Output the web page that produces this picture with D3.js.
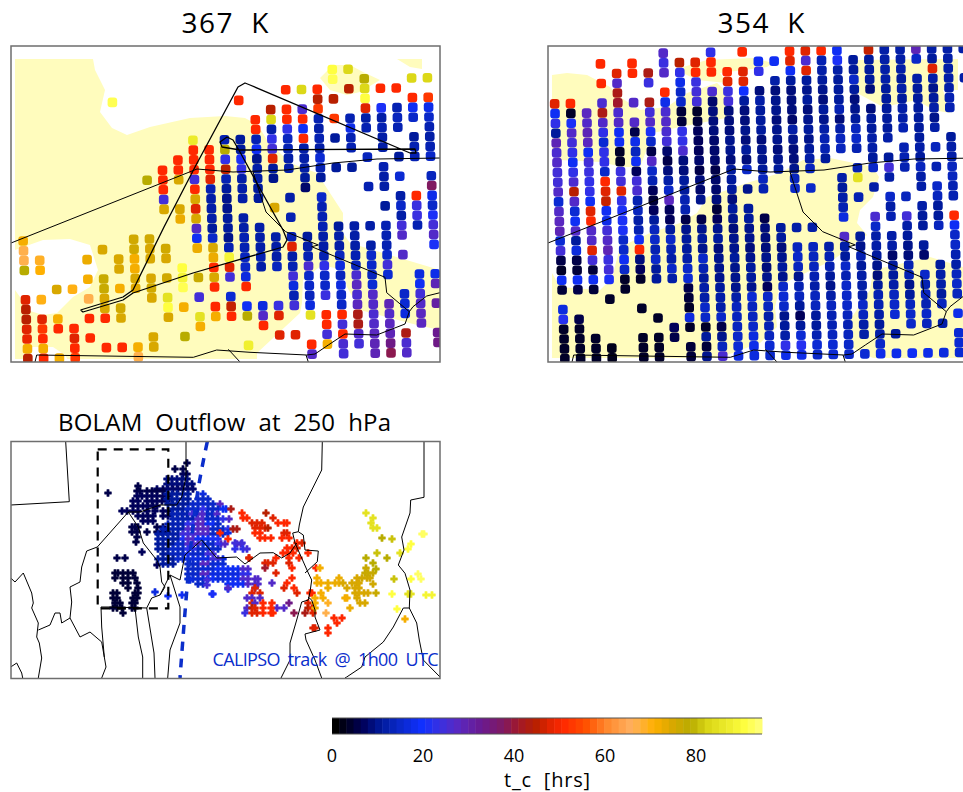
<!DOCTYPE html>
<html>
<head>
<meta charset="utf-8">
<script src="https://d3js.org/d3.v7.min.js"></script>
<style>
body { margin: 0; background: #fff; }
text { font-family: "Open Sans", sans-serif; font-weight: 400; fill: #000; }
</style>
</head>
<body>
<script>
// colour bar of t_c [hrs]
var colorStopT = [0, 3, 6, 10, 14, 19, 23, 27, 32, 37, 40, 44, 47, 50, 55, 60, 65, 70, 74, 78, 82, 87, 90, 94.5];
var colorStopC = ['#000000', '#000028', '#00005a', '#001a9c', '#0a28c8', '#1030ff', '#3a30e0', '#5a28c0', '#6a1a90', '#801a60',
	'#a0182c', '#b82000', '#e02400', '#ff2800', '#ff5000', '#ff8c30', '#ffb060', '#ffb000', '#d8a800', '#b8ac00',
	'#dcd818', '#f0f030', '#ffff40', '#ffff90'];
var barTicks = [0, 20, 40, 60, 80];

// 367 K, one object per trajectory row: {column: t_c}
var rows367 = [
	{20:90,21:82},
	{20:91,22:78,25:82,26:82},
	{17:50,18:82,19:50,21:44,22:82,23:50,24:50},
	{6:91,14:50,19:44,20:44,22:90,25:50,26:52},
	{16:44,17:50,18:25,19:52,22:47,23:20,24:12,25:18,26:17},
	{15:50,16:82,17:50,18:50,19:12,20:52,21:12,22:11,23:11,24:13,25:14,26:14},
	{15:50,16:11,17:22,18:18,19:11,21:17,22:12,23:12,24:12,26:12},
	{11:86,13:12,14:10,15:12,16:22,17:13,18:50,19:12,20:10,21:12,23:11,25:10,26:11},
	{11:50,12:50,13:78,14:10,15:18,16:24,17:12,18:11,19:11,21:12,23:11,25:12,26:12},
	{10:50,11:50,12:50,13:22,14:20,15:9,16:47,17:11,18:11,19:15,22:13,24:10,25:12,26:14},
	{9:50,10:50,11:50,12:50,13:44,14:22,15:11,16:10,17:11,18:11,19:12,20:10,21:10,23:12},
	{8:78,9:50,10:74,11:24,12:47,13:12,14:11,15:11,16:9,18:10,19:10,23:11,24:15,26:13},
	{9:50,11:50,12:12,13:10,14:11,15:10,18:7,22:12,23:11,26:37},
	{9:24,11:74,12:11,13:9,14:11,15:10,17:11,19:14,24:11,25:50,26:17},
	{9:74,10:74,11:47,12:11,13:9,16:74,19:12,23:10,24:14,25:23,26:14},
	{10:72,11:74,12:11,13:10,14:11,17:12,19:12,24:11,25:23,26:20},
	{11:26,12:10,13:10,14:11,15:11,19:12,20:10,21:11,22:11,23:12,24:24,25:12,26:24},
	{0:71,7:75,8:75,11:18,12:14,13:9,14:12,15:11,16:11,17:12,18:10,19:11,20:11,21:11,23:12,24:26,26:26},
	{0:66,5:74,7:75,8:74,9:75,11:72,12:74,13:12,14:12,15:11,16:11,17:47,18:11,19:11,20:11,21:11,22:11,23:12,26:20},
	{0:66,1:68,4:72,6:74,7:71,8:74,9:74,12:72,13:88,14:13,15:12,16:11,17:11,18:12,19:12,20:13,21:12,22:14,23:14,24:26},
	{0:78,1:70,6:74,7:71,10:90,12:50,13:47,14:14,15:11,16:13,17:12,18:25,19:22,20:16,21:13,22:14,23:24},
	{4:71,5:76,7:74,8:74,9:75,10:88,11:76,12:74,13:24,14:16,17:24,18:14,19:14,20:13,21:25,22:13,23:15,25:16,26:17},
	{2:74,3:69,5:76,6:71,7:73,8:75,10:91,12:50,14:50,17:16,18:14,19:14,20:16,21:27,22:15,25:18,26:28},
	{0:47,1:69,4:66,5:74,8:74,9:84,11:24,13:15,17:12,18:13,19:23,20:14,21:25,22:26,24:14,25:24},
	{0:44,5:74,6:75,9:90,10:71,12:50,13:45,14:18,15:16,16:23,17:24,18:16,20:14,21:27,22:26,23:28,24:15,25:26,26:30},
	{0:44,1:47,2:71,4:50,5:50,6:74,9:74,11:84,12:71,13:50,14:78,15:26,16:47,18:84,19:50,20:50,21:42,22:25,23:26,24:16,25:27},
	{0:47,1:52,2:50,3:50,11:71,15:50,19:50,20:24,21:42,22:26,23:27,25:27},
	{0:48,1:50,3:47,4:50,8:74,10:78,16:47,17:47,19:24,20:50,21:26,22:27,23:28,24:42,26:32},
	{0:71,1:71,3:50,5:50,6:50,7:71,8:74,14:87,18:50,19:71,20:25,21:24,22:28,23:33,24:25,26:33},
	{0:44,1:50,2:71,3:52,7:66,18:26,20:24,22:28,23:38,24:26}
];

// 354 K, the first object is row -2 of the same grid
var rows354 = [
	{7:26,10:22,12:50,15:50,16:47,17:50,18:18,20:45,21:11,22:11,23:28,24:11,25:11,26:11},
	{3:50,5:50,7:23,8:44,9:47,10:50,13:18,14:18,15:47,16:25,17:12,18:20,19:10,20:10,21:11,22:11,23:14,24:10,25:11},
	{4:47,5:50,6:42,7:26,8:22,9:50,10:50,11:50,12:47,13:22,15:18,16:47,17:11,18:11,19:10,20:10,21:11,22:11,24:47,25:11},
	{3:50,4:26,6:23,8:17,9:23,11:47,12:47,14:11,15:10,16:10,17:10,18:10,19:14,20:10,21:11,22:10,23:11,24:11,25:11,26:11},
	{4:42,7:50,8:14,9:24,10:25,11:23,12:19,13:8,14:8,15:8,16:9,17:9,18:10,19:10,20:8,21:10,22:11,23:10,24:9,25:11},
	{0:47,1:50,3:25,4:40,5:26,6:42,7:17,8:14,9:24,10:7,11:24,12:10,13:11,14:9,15:8,16:10,17:8,18:10,19:8,21:10,22:10,23:10,24:10,25:12},
	{0:18,1:3,2:27,3:42,4:25,6:24,7:25,8:4,9:3,10:8,11:8,12:8,13:10,14:9,15:8,16:8,17:10,18:12,19:9,20:8,21:10,22:11,23:10,24:11,25:12},
	{0:22,1:20,2:26,3:26,4:26,5:26,6:26,7:26,8:4,9:4,10:8,11:8,12:8,13:10,14:8,15:7,16:9,17:9,18:8,19:10,20:10,21:10,22:11,23:10,24:9},
	{0:10,1:26,2:28,3:22,4:18,5:5,6:20,7:25,8:22,9:6,10:8,11:8,12:9,13:10,14:9,15:11,16:10,17:11,18:11,19:13,20:10,21:10,22:12,23:10,24:11},
	{0:28,1:24,2:27,3:15,4:18,5:17,6:14,7:24,8:22,9:6,10:7,11:9,12:8,13:8,14:9,15:9,16:9,17:12,18:13,19:14,20:11,21:11,23:10,25:10},
	{0:25,1:22,2:18,3:22,4:3,5:13,6:5,7:7,8:25,9:6,10:7,11:9,12:10,13:9,14:8,15:8,16:10,17:12,18:13,19:12,20:11,22:12,23:11,24:13,25:11},
	{0:26,1:18,2:24,3:22,4:3,5:18,6:26,7:5,8:8,9:7,10:7,11:8,12:8,13:9,14:9,15:8,16:11,17:10,20:10,21:10,22:12,23:10,25:11},
	{0:24,1:22,2:23,3:14,4:23,5:6,6:14,7:8,8:8,9:5,10:5,11:10,12:14,13:10,14:10,15:9,16:13,19:12,20:14,21:24,22:12,23:13,24:12,25:13},
	{0:24,1:25,2:22,3:50,4:24,5:24,6:12,7:11,8:10,9:8,10:7,11:10,13:13,15:13,18:11,19:84,21:11,23:11,25:13},
	{0:26,1:44,2:22,3:47,4:47,5:25,6:6,7:14,8:10,9:7,10:7,11:10,12:9,13:12,15:14,16:14,18:10,20:11,23:11,24:14,25:12},
	{0:15,1:26,2:18,3:45,4:22,5:12,6:4,7:27,8:12,9:9,10:8,11:8,18:11,19:12,21:14,22:13,24:13,25:12},
	{0:26,1:15,2:47,3:18,4:20,5:13,6:6,7:6,8:12,10:4,11:10,12:10,18:12,21:11,23:11,24:10},
	{0:27,1:18,2:50,3:17,4:20,5:11,6:10,7:6,8:5,9:5,10:6,11:9,12:10,13:5,18:16,20:25,21:12,22:24,23:10,24:10,25:50},
	{0:28,1:26,2:26,3:24,4:20,5:12,6:13,7:10,8:9,9:9,10:9,11:8,12:9,13:8,14:10,15:11,16:11,20:14,22:11,23:10,24:13,25:18},
	{0:15,1:10,2:26,3:26,4:14,5:18,6:14,7:14,8:10,9:10,10:10,11:9,12:9,13:8,14:10,18:26,19:10,20:11,21:11,22:10,25:14},
	{0:24,1:16,2:47,3:28,4:14,5:50,6:12,7:12,8:10,9:9,10:8,11:9,12:8,13:8,14:8,15:13,16:13,17:11,18:11,19:9,20:11,21:11,22:9,23:10,25:14},
	{0:5,1:5,2:24,3:23,4:18,5:8,6:14,7:11,8:11,9:14,10:9,11:10,12:9,13:9,14:9,15:14,16:13,17:12,18:10,19:12,20:10,21:7,22:8,23:7,25:12},
	{0:3,1:4,2:4,3:24,4:14,5:6,6:10,7:14,8:14,9:12,10:9,11:9,12:10,13:8,14:10,15:13,16:13,17:12,18:14,19:10,20:9,21:10,22:12,24:10,25:11},
	{0:18,1:18,2:18,3:20,4:3,5:3,6:10,7:11,8:15,9:10,10:9,11:9,12:10,13:9,14:9,15:9,16:12,17:10,18:12,19:11,20:8,21:10,22:12,23:14,24:11,25:13},
	{0:4,1:5,2:4,4:3,8:5,9:11,10:10,11:9,12:9,13:6,14:14,15:12,16:11,17:9,18:14,19:11,20:10,21:11,22:9,23:12,24:11,25:14},
	{3:3,8:4,9:11,10:11,11:11,12:15,13:14,14:15,15:13,16:13,17:11,18:14,19:11,20:12,21:13,22:10,23:13,24:10,25:13},
	{0:16,5:3,8:3,9:14,10:11,11:13,12:13,13:13,14:14,15:10,16:13,17:13,18:14,19:14,20:12,21:14,22:13,23:12,24:13},
	{0:21,1:5,6:3,8:16,9:14,10:14,11:13,12:13,13:11,14:9,15:6,16:10,17:12,18:13,19:13,20:11,21:15,22:14,23:14,25:17},
	{0:3,1:3,7:6,8:3,9:3,10:5,11:13,12:14,13:12,14:10,15:10,16:10,17:12,18:12,19:11,20:10,22:14,23:13,24:11},
	{0:3,1:3,2:3,5:3,6:3,7:5,9:10,10:9,11:14,12:16,13:13,14:11,15:15,16:12,17:13,18:13,19:11,20:11,21:10,25:15},
	{0:3,1:3,2:3,3:2,5:3,6:3,8:4,9:4,10:13,11:15,12:17,13:15,14:22,15:21,16:15,17:15,18:14,20:14,25:15},
	{0:3,1:3,2:3,3:2,5:3,6:3,8:4,9:9,10:25,11:16,12:16,13:14,14:17,15:17,16:14,17:15,18:14,19:15,20:17,21:17,22:18,23:17,24:16,25:15}
];

// 250 hPa outflow, each record: t_c, map y, then map x of the marks on that row
var outflow250 = [
	[5,463,187],[5,469,175,183],[6,474,183,187],[8,479,167,172,177,182,187],[8,484,167,172,177,182,187,192],
	[7,489,157,163,168,173,178,183,188,193],[5,486,138],[5,491,137,140,147,152,157,163],[5,493,108],
	[6,496,137,142,147,152,157,163,168],[6,501,133,138,147,152,157,162,167],[6,506,133,138,143,148,153,157],
	[6,511,122,127,133,138,147,155,163,168],[6,516,138,143,148,153,163,168],[6,521,143,148,153],
	[5,527,132,135,138,157,163],[5,532,132,137,147,157,162,167],[5,537,137],[5,542,136],[6,552,142],[5,558,117,125],[6,565,157],
	[10,494,167,172,177,183,188],[16,494,203],
	[10,499,167,172,177,183,188],[14,499,198,203,208],
	[10,504,168,173,178,183,188],[14,504,193,198,203,208,213],[27,504,220],
	[10,509,173,178,183],[14,509,188,193,198,208,213,218],[22,509,203],[18,509,223,226],[42,509,231],
	[12,514,172,177,182,187],[24,514,192],[14,514,197,207,212],[26,514,202,217],
	[12,519,173,178,183,188,193],[26,519,198,203,229],[14,519,208,213,218],[22,519,223],
	[12,524,168,173,178,183],[22,524,188,193],[27,524,198,203],[18,524,208,213],[14,524,218],
	[12,529,163,168,173,178,183],[26,529,188,193],[27,529,198,203,208],[14,529,213,218,223],[22,529,228],[42,529,233,237],
	[11,534,158,163,168,173,178],[24,534,183,188,193],[26,534,198,203,208],[14,534,213,218,223],[50,533,220],[16,533,228],
	[11,539,158,163,168,173,178],[20,539,183],[26,539,188,193],[18,539,198,203,208],[20,539,213,218],[50,539,228],
	[10,544,158,163,168,173],[14,544,178,183,203,208,213],[26,544,188,193,198,221,225,237,241],[22,544,218],[24,543,235,242],
	[10,549,158,163,168],[14,549,173,178,183,198,203,208,213,218],[22,549,188,193,235,243],[24,549,247],
	[10,554,163,168],[13,554,173,178,183],[20,554,188],[14,554,193,198,203],[24,554,208,213],
	[10,559,158,163,168,173],[14,559,178,183],[16,559,188,193,198,203,208,223],[24,559,213,218],[47,558,249],
	[10,564,163,168,173],[14,564,188,193,198],[27,564,203,208],[15,564,213,218,223],
	[14,569,188,193,198],[15,569,203,208,213],[18,569,218,223,228,233,238],[26,569,243,248],
	[14,574,188,193,198],[27,574,203,208],[16,574,213,218,223,228,233,238],[22,574,243,248],
	[15,579,188,193,198,203],[18,579,208,213],[16,579,218,223],[17,579,228,233,238],[26,579,243,248,255,258],
	[14,584,198,203],[18,584,228,233,238,243],[26,584,248,255,258],[26,588,255],[18,589,228],
	[16,580,190],[24,580,207],[24,585,207],[26,588,228],[16,592,155],[18,596,168],[18,595,182],[20,594,212,213],
	// dark patch in the south of the dashed box
	[4,573,115,118,123,128,133],[4,578,115,123,128,135],[4,583,123,128,137],[4,588,128,138],
	[4,593,113,117,135,138],[4,598,113,117,133,137],[4,603,115,120,132,135],[4,608,113,117,122,132,135],[4,613,123],
	// red patches
	[50,513,242],[44,513,266],[50,518,243,247],[47,518,273],[47,523,252,257,262],[50,523,278,284,287],
	[47,528,255,260,265],[44,528,268],[50,533,255,260],[47,533,284,287],[50,538,260,265,271,282,289],
	[50,543,297],[47,543,302],[50,548,287,292],[47,548,297],[50,553,283,288,293,308],[47,558,249],[50,558,276,289,299],
	[47,563,289,265,268,273],[40,568,265],[50,568,292,316],[47,573,276],[50,578,292],[50,583,287],[26,583,272],
	[47,588,255,284],[50,588,294],[47,593,252,260,297],[50,593,310,312],[26,598,247,252,260],
	[47,603,252,308],[26,603,255],[50,603,263,272],[33,603,289],
	[26,608,247,277,284],[44,608,252,308],[47,608,255,312],[50,608,263,271],
	[23,613,245],[47,613,252,257,313],[50,613,263,271,273],[38,613,294],[42,613,305],
	[50,618,334,342],[50,623,337],[47,628,313,315],[50,628,328],[50,633,328],
	// amber and yellow patches in the east
	[71,568,320],[71,578,317],[71,583,317,321],[72,583,328,335,339],[74,583,343,352,357,359],[72,588,328],[72,578,339],
	[74,588,347,355,359],[74,593,355,359,364,368],[76,593,376],[71,593,321],[74,578,357],[74,598,357],[71,598,315,323,345,347],
	[74,603,360,365],[71,603,315],[68,603,328],[71,608,315],[72,608,350],[66,613,326],
	[75,584,373],[75,578,362,367,370],[76,573,365,368,373],[76,568,366],[78,569,376],[78,563,373],[78,558,366,387],
	[80,553,377],[84,553,400],[78,538,382],[80,539,392],[84,513,366],[84,518,373],[84,523,371],[84,528,373,377],
	[92,534,422,424],[90,544,411],[90,549,408],[92,574,418],[90,579,411],[92,579,421],[80,579,394],[90,594,392],
	[84,594,408,411],[88,595,426,432],[90,609,397],[71,619,405]
];

// map outlines, in map coordinates of the panel
var borders = [
	[[11,243],[197,169],[233,172],[287,170],[333,163],[377,159],[440,158]],
	[[253,172],[266,212],[285.7,231.7],[318.3,245],[311.7,246.7],[385,277.3],[386.7,292.7],[409.3,311.7],[413,306.7],[426.7,296],[440,292.7]],
	[[409.3,311.7],[405,324],[376.7,335],[345,334],[328.3,345],[315,354],[306.7,355],[250,352.3],[216.7,350],[193.3,357.3],[36.7,355],[35,362]],
	[[228.3,349.3],[240,362]],
	[[306,355],[308.3,362]]
];
var flightTrack = [[80.5,310],[123,297],[133,290],[164,227],[195,167],[238,87],[245,83],[250,85],[410,153],[416,153],[415,149],
	[240,150],[222,147],[220,142],[227,137],[233,140],[240,152],[260.7,190],[283,230],[287,240],[283,247],[193,273],[133,293],[123,300],[83,312],[80.5,310]];
var pale367 = [
	[[15,59],[93,59],[95,70],[105,90],[100,112],[112,128],[127,135],[150,127],[190,118],[225,116],[245,118],[258,125],[267,140],[290,163],[317,173],[343,213],[343,233],[350,243],[383,253],[440,270],
	 [440,330],[417,325],[360,310],[347,287],[343,270],[322,265],[303,280],[302,303],[300,313],[257,353],[257,359],[15,359]],
	[[320,78],[333,65],[350,65],[363,72],[380,80],[360,92],[347,95],[330,90]],
	[[397,59],[422,59],[422,69],[410,67]]
];
var holes367 = [
	[[15,250],[43,240],[70,239],[90,245],[98,270],[90,287],[73,297],[57,313],[43,315],[27,310],[20,297],[15,290]],
	[[23,360],[23,355],[30,347],[53,347],[65,355],[68,360]]
];
var pale354 = [
	[[552,75],[567,73],[587,75],[610,87],[620,97],[640,110],[667,107],[687,93],[717,83],[732,97],[731,117],[680,127],[653,133],[640,167],[623,167],[600,162],[560,160],[552,153]],
	[[683,67],[707,60],[753,58],[773,63],[767,67],[720,73],[727,83],[697,80],[683,73]],
	[[857,60],[958,59],[958,90],[943,90],[950,113],[933,110],[917,100],[883,107],[857,93]],
	[[552,273],[560,287],[600,290],[612,278],[620,247],[650,233],[680,223],[697,213],[707,197],[747,183],[780,173],[803,160],[830,158],[873,167],[879,177],[873,197],[860,210],[857,223],[867,235],
	 [833,260],[780,285],[775,307],[777,327],[760,343],[727,355],[727,358],[552,358]],
	[[870,290],[873,270],[930,257],[963,267],[963,358],[873,358],[850,347],[848,323]]
];
var coast250 = [
	[[65.7,441.7],[69.3,501.7],[10.7,505]],
	[[186,441.7],[186,477],[181.7,497],[176.7,505],[160,505],[140,512],[128.3,512],[97.3,547],[86.7,551],[81.7,567],[80,582],[70,587],[71.7,602],[70,618],[80,637],[90,632],[101.7,642],[104.3,657],[106,667],[101.7,678]],
	[[10.7,578],[15,582],[23.3,573],[31.7,593],[33.3,603],[31.7,608],[38.3,623],[36.7,637],[39.3,643],[41.7,658],[38.3,678]],
	[[38.3,630],[50,625],[55,613],[60,613],[61.7,623],[70,618]],
	[[10.7,667],[16.7,663],[21.7,673],[22.7,678]],
	[[146.7,608],[110,607],[101,607],[101.7,627],[104.3,657]],
	[[135,608],[138.3,637],[142.7,657],[142.7,678]],
	[[146.7,608],[154,653],[155,678]],
	[[146.7,608],[151.7,598],[160,595],[170,575],[180,607],[180,623],[170,650],[167.7,678]],
	[[128.3,512],[138.3,527],[143.3,543],[156.7,560],[160,567],[161.7,582],[165,587],[160,595]],
	[[170,575],[180,580],[185,555],[201.7,540],[216.7,558],[236.7,557],[245,564],[260,553],[273.3,552.7],[281.7,558],[290,553],[296.7,543]],
	[[322.3,441.7],[321.7,470],[303.3,507],[299.3,525],[298.3,531.7],[292.7,533],[295,543],[308.3,573],[311.7,580],[310,592],[308.3,600],[301.7,602],[296.7,620],[290,643],[290,660],[281,678]],
	[[298.3,531.7],[303.3,535],[305,550],[318.3,551],[317.3,561.7],[305,573]],
	[[308,597],[311.7,600],[315,610],[315,617],[320,630],[305,634],[306,640],[315,660],[321.7,678]],
	[[424,441.7],[424,497.3],[410.7,500],[410,513],[401.7,537],[404,550],[398.3,565],[405,573.3],[410,590],[409.3,608],[403.3,608],[393.3,627],[383.3,642],[365,657],[361.7,667],[346.7,677],[345,678]],
	[[409.3,608],[416.7,623],[419.3,640],[423.3,660],[440,677]]
];
var domainBox = [[97.7,449.3],[168.3,449.3],[168.3,608.3],[97.7,608.3],[97.7,449.3]];
var calipsoTrack = [[207.3,441.7],[195,510],[186,600],[180,678]];

var svg = d3.select('body').append('svg')
	.attr('width', 963)
	.attr('height', 792);

var color = d3.scaleLinear().domain(colorStopT).range(colorStopC).interpolate(d3.interpolateRgb);

// grid columns lean a little and rows climb a little towards the east
var colScale = d3.scaleLinear().domain([0, 26]).range([21.5, 432.3]);
var rowScale = d3.scaleLinear().domain([0, 29]).range([74.45, 358.65]);
function gridY(k, j) { return rowScale(j) - 0.25 * k; }
function gridX(k, j) { return colScale(k) + 0.04 * (gridY(k, j) - 200); }

function panel(id, x0, y0, w, h) {
	var xMap = d3.scaleLinear().domain([11, 440]).range([x0, x0 + w]);
	var yMap = d3.scaleLinear().domain([y0, y0 + h]).range([y0, y0 + h]);
	svg.append('clipPath').attr('id', id)
		.append('rect').attr('x', x0).attr('y', y0).attr('width', w).attr('height', h);
	var g = svg.append('g').attr('clip-path', 'url(#' + id + ')');
	var line = d3.line().x(function(d){ return xMap(d[0]); }).y(function(d){ return yMap(d[1]); });
	return {g: g, xMap: xMap, yMap: yMap, line: line, x0: x0, y0: y0, w: w, h: h};
}
function drawFrame(p) {
	svg.append('rect')
		.attr('x', p.x0).attr('y', p.y0).attr('width', p.w).attr('height', p.h)
		.attr('fill', 'none').attr('stroke', '#6e6e6e').attr('stroke-width', 1.5);
}
function drawLines(p, lines, width) {
	p.g.selectAll(null).data(lines).enter().append('path')
		.attr('d', p.line)
		.attr('fill', 'none').attr('stroke', '#000').attr('stroke-width', width)
		.attr('stroke-linejoin', 'round');
}
function drawAreas(p, areas, fill) {
	p.g.selectAll(null).data(areas).enter().append('path')
		.attr('d', function(d){ return p.line(d) + 'Z'; })
		.attr('fill', fill);
}
function drawDots(p, rows, firstRow) {
	var pts = [];
	rows.forEach(function(row, i){
		Object.keys(row).forEach(function(k){
			pts.push({k: +k, j: i + firstRow, t: row[k]});
		});
	});
	p.g.selectAll(null).data(pts).enter().append('rect')
		.attr('x', function(d){ return p.xMap(gridX(d.k, d.j)) - 4.8; })
		.attr('y', function(d){ return p.yMap(gridY(d.k, d.j)) - 4.8; })
		.attr('width', 9.6).attr('height', 9.6).attr('rx', 3)
		.attr('fill', function(d){ return color(d.t); });
}

// 367 K
var p367 = panel('clip367', 11, 46, 429, 316);
drawAreas(p367, pale367, '#fffcbd');
drawAreas(p367, holes367, '#fff');
drawDots(p367, rows367, 0);
drawLines(p367, borders, 1);
drawLines(p367, [flightTrack], 1.3);
drawFrame(p367);

// 354 K, cut off by the page on the right
var p354 = panel('clip354', 548, 46, 429, 316);
var pale354Map = pale354.map(function(a){ return a.map(function(d){ return [p354.xMap.invert(d[0]), d[1]]; }); });
drawAreas(p354, pale354Map, '#fffcbd');
drawDots(p354, rows354, -2);
drawLines(p354, borders, 1);
drawFrame(p354);

// 250 hPa
var p250 = panel('clip250', 11, 441.5, 429, 237);
var cross = d3.symbol().type(d3.symbolCross).size(26);
var marks = [];
outflow250.forEach(function(r){
	r.slice(2).forEach(function(x){ marks.push({x: x, y: r[1], t: r[0]}); });
});
p250.g.selectAll(null).data(marks).enter().append('path')
	.attr('d', cross)
	.attr('transform', function(d){ return 'translate(' + p250.xMap(d.x) + ',' + p250.yMap(d.y) + ')'; })
	.attr('fill', function(d){ return color(d.t); })
	.attr('stroke', function(d){ return color(d.t); })
	.attr('stroke-width', 0.5);
drawLines(p250, coast250, 1);
p250.g.append('path').attr('d', p250.line(domainBox))
	.attr('fill', 'none').attr('stroke', '#000').attr('stroke-width', 2.2).attr('stroke-dasharray', '9,7');
p250.g.append('path').attr('d', d3.line().curve(d3.curveNatural).x(function(d){ return p250.xMap(d[0]); }).y(function(d){ return p250.yMap(d[1]); })(calipsoTrack))
	.attr('fill', 'none').attr('stroke', '#0b2ecb').attr('stroke-width', 3.5).attr('stroke-dasharray', '9,7.8');
drawFrame(p250);

// titles
function label(s, x, y, size, len, fill) {
	svg.append('text')
		.attr('x', x).attr('y', y)
		.attr('text-anchor', 'middle')
		.attr('textLength', len).attr('lengthAdjust', 'spacing')
		.style('font-size', size + 'px')
		.style('fill', fill || '#000')
		.style('white-space', 'pre')
		.text(s);
}
label('367  K', 225, 33, 28, 87);
label('354  K', 761, 33, 28, 87);
label('BOLAM  Outflow  at  250  hPa', 224.5, 431, 24, 333);
label('CALIPSO  track  @  1h00  UTC', 325.5, 666, 18, 226, '#0b2ecb');

// colour bar
var barX = d3.scaleLinear().domain([0, 94.5]).range([332, 762]);
var blocks = d3.range(0, 94.5, 94.5 / 60);
svg.selectAll(null).data(blocks).enter().append('rect')
	.attr('x', function(d){ return barX(d); })
	.attr('y', 718).attr('height', 16)
	.attr('width', barX(94.5 / 60) - barX(0) + 0.5)
	.attr('fill', function(d){ return color(d); });
svg.append('path').attr('d', 'M332,718H762M332,734H762')
	.attr('fill', 'none').attr('stroke', '#555').attr('stroke-width', 1);
svg.selectAll(null).data(barTicks).enter().append('text')
	.attr('x', function(d){ return barX(d); })
	.attr('y', 762)
	.attr('text-anchor', 'middle')
	.style('font-size', '18px')
	.text(function(d){ return d; });
label('t_c  [hrs]', 547, 787, 20, 86);
</script>
</body>
</html>
